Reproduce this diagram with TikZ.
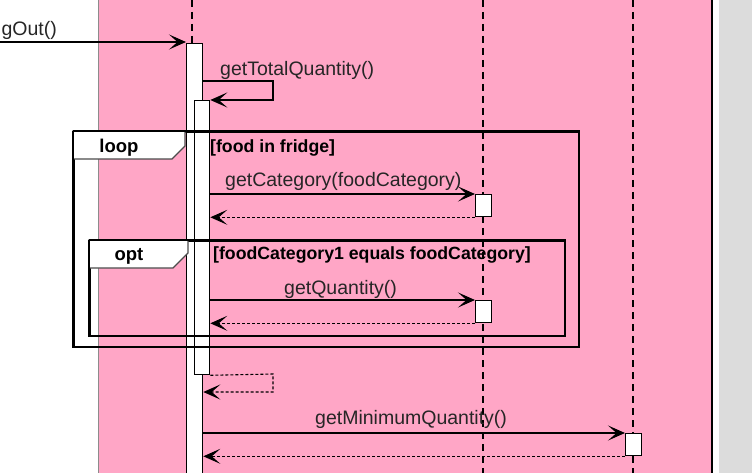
\documentclass[tikz,border=0pt]{standalone}
\usepackage{fontspec}
\setmainfont{Liberation Sans}
\usetikzlibrary{arrows.meta}
\definecolor{pinkbg}{HTML}{FFA6C6}
\definecolor{grayside}{HTML}{DCDCDC}
\begin{document}
\begin{tikzpicture}[x=1pt,y=-1pt,
 msg/.style={draw=black, line width=1.3pt, -{Stealth[length=17pt,width=15pt,inset=8.5pt]}},
 ret/.style={msg, dash pattern=on 3pt off 2pt, line width=1.1pt},
 life/.style={draw=black, line width=1.3pt, dash pattern=on 7pt off 5pt},
 bar/.style={draw=black, fill=white, line width=1.3pt, rectangle, inner sep=0pt, anchor=north west},
 frame/.style={draw=black, line width=2.2pt, rectangle, inner sep=0pt, anchor=north west},
 tag/.style={draw=black!70, fill=white, line width=1.1pt},
 lbl/.style={font=\fontsize{19.5}{20}\selectfont, text=black!85, inner sep=0pt, anchor=west},
 guard/.style={font=\fontsize{17.7}{18}\selectfont\bfseries, inner sep=0pt, anchor=west},
 taglbl/.style={font=\fontsize{18.5}{19}\selectfont\bfseries, inner sep=0pt},
]
\useasboundingbox (0,0) rectangle (752,473);
\clip (0,0) rectangle (752,473);
% background
\fill[white] (0,0) rectangle (752,473);
\fill[pinkbg] (98,0) rectangle (712,473);
\draw[black!45, line width=1pt] (98,0) -- (98,473);
\draw[black, line width=2pt] (712,0) -- (712,473);
\fill[grayside] (719,0) rectangle (752,473);
% lifelines
\coordinate (l1top) at (192,0);
\coordinate (l2top) at (483,0);
\coordinate (l2bot) at (483,473);
\coordinate (l3top) at (633,0);
\coordinate (l3bot) at (633,473);
\draw[life] (l2top) -- (l2bot);
\draw[life] (l3top) -- (l3bot);
% activation bars
\node[bar, minimum width=16pt, minimum height=440pt] (bar1) at (186,43) {};
\draw[life] (l1top) -- (l1top |- bar1.north);
\node[bar, minimum width=15pt, minimum height=274pt] (bar2) at (194,100) {};
\node[bar, minimum width=16pt, minimum height=22pt] (box1) at (475,194) {};
\node[bar, minimum width=16pt, minimum height=22pt] (box2) at (475,300) {};
\node[bar, minimum width=16pt, minimum height=22pt] (box3) at (625,433) {};
% incoming message
\coordinate (inStart) at (0,42);
\node[lbl, anchor=east] (inlbl) at (57,30) {gOut()};
\draw[msg] (inStart) -- (bar1.west |- inStart);
% self call
\node[lbl] (totlbl) at (220,70) {getTotalQuantity()};
\draw[msg] (bar1.east |- 0,81) -- (273,81) -- (273,100) -- (bar2.north east);
% loop frame
\node[frame, minimum width=505pt, minimum height=215pt] (loopframe) at (73,131) {};
\draw[tag] (73,131) -- (185,131) -- (185,146) -- (172,159) -- (73,159) -- cycle;
\draw[black, line width=2.2pt] (loopframe.north west) -- (loopframe.north east);
\draw[black, line width=2.2pt] (loopframe.north west) -- (loopframe.south west);
\node[taglbl] (looplbl) at (119,148) {loop};
\node[guard] (loopguard) at (210,148) {[food in fridge]};
% getCategory
\node[lbl] (catlbl) at (225,181) {getCategory(foodCategory)};
\draw[msg] (bar2.east |- box1.north) -- (box1.north west);
\draw[ret] (box1.south west) -- (bar2.east |- box1.south);
% opt frame
\node[frame, minimum width=475pt, minimum height=95pt] (optframe) at (89,240) {};
\draw[tag] (89,240) -- (188,240) -- (188,253) -- (173,268) -- (89,268) -- cycle;
\draw[black, line width=2.2pt] (optframe.north west) -- (optframe.north east);
\draw[black, line width=2.2pt] (optframe.north west) -- (optframe.south west);
\node[taglbl] (optlbl) at (129,256) {opt};
\node[guard] (optguard) at (213,255) {[foodCategory1 equals foodCategory]};
% getQuantity
\node[lbl] (qtylbl) at (284,289) {getQuantity()};
\draw[msg] (bar2.east |- box2.north) -- (box2.north west);
\draw[ret] (box2.south west) -- (bar2.east |- box2.south);
% return of self call
\draw[ret] (bar2.south east) -- (273,374) -- (273,392) -- (bar1.east |- 0,392);
% getMinimumQuantity
\node[lbl] (minlbl) at (315,419) {getMinimumQuantity()};
\draw[msg] (bar1.east |- box3.north) -- (box3.north west);
\draw[ret] (box3.south west) -- (bar1.east |- box3.south);
\end{tikzpicture}
\end{document}
